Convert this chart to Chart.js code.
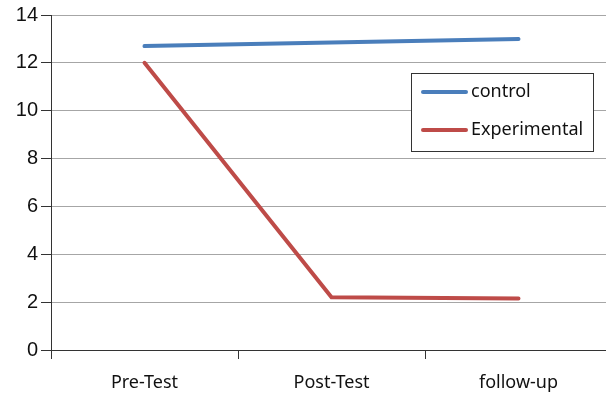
<!DOCTYPE html>
<html>
<head>
<meta charset="utf-8">
<script src="https://cdn.jsdelivr.net/npm/chart.js@4"></script>
<style>
  html, body { margin: 0; padding: 0; background: #fff; overflow: hidden; }
  /* the original plot runs a little past the right edge of the picture */
  #wrap { width: 606px; height: 398px; overflow: hidden; }
</style>
</head>
<body>
<div id="wrap"><canvas id="lineChart" width="612" height="398"></canvas></div>
<script>
// values
const categories = ['Pre-Test', 'Post-Test', 'follow-up'];
const controlValues = [12.7, 12.85, 13.0];
const experimentalValues = [12.0, 2.2, 2.15];
const yTicks = [0, 2, 4, 6, 8, 10, 12, 14];

// boxed legend that sits inside the plot, like the spreadsheet original
const boxLegend = {
    id: 'boxLegend',
    afterDraw(chart) {
        const ctx = chart.ctx;
        const x = 411, y = 73, w = 182, h = 78;
        ctx.save();
        ctx.fillStyle = '#fff';
        ctx.fillRect(x, y, w, h);
        ctx.strokeStyle = '#333';
        ctx.lineWidth = 1;
        ctx.strokeRect(x + 0.5, y + 0.5, w, h);
        chart.data.datasets.forEach((ds, i) => {
            const ly = y + 19 + i * 38;
            ctx.strokeStyle = ds.borderColor;
            ctx.lineWidth = 4;
            ctx.lineCap = 'round';
            ctx.beginPath();
            ctx.moveTo(x + 12, ly);
            ctx.lineTo(x + 55, ly);
            ctx.stroke();
            ctx.fillStyle = '#111';
            ctx.font = '18px "Noto Sans"';
            ctx.textBaseline = 'middle';
            ctx.fillText(ds.label, x + 60, ly);
        });
        ctx.restore();
    }
};

const ctx = document.getElementById('lineChart').getContext('2d');
new Chart(ctx, {
    type: 'line',
    data: {
        labels: categories,
        datasets: [{
            label: 'control',
            data: controlValues,
            borderColor: '#4a7ebb',
            borderWidth: 4,
            borderCapStyle: 'round',
            pointRadius: 0,
            tension: 0
        }, {
            label: 'Experimental',
            data: experimentalValues,
            borderColor: '#be4b48',
            borderWidth: 4,
            borderCapStyle: 'round',
            pointRadius: 0,
            tension: 0
        }]
    },
    options: {
        responsive: false,
        animation: false,
        layout: { padding: { left: 0, top: 10, right: 0, bottom: 0 } },
        plugins: {
            legend: { display: false },
            tooltip: { enabled: false }
        },
        scales: {
            x: {
                offset: true,
                afterFit: axis => { axis.height = 48; },
                grid: {
                    offset: true,
                    drawOnChartArea: false,
                    drawTicks: true,
                    tickLength: 9,
                    tickColor: '#333'
                },
                border: { color: '#333', width: 1 },
                ticks: {
                    padding: 13,
                    color: '#111',
                    font: { family: 'Noto Sans', size: 18 }
                }
            },
            y: {
                min: 0,
                max: 14,
                afterFit: axis => { axis.width = 51; },
                afterBuildTicks: axis => { axis.ticks = yTicks.map(v => ({ value: v })); },
                grid: {
                    color: '#a6a6a6',
                    tickColor: '#333',
                    tickLength: 10
                },
                border: { color: '#333', width: 1 },
                ticks: {
                    padding: 3,
                    color: '#111',
                    font: { family: 'Liberation Sans', size: 20 }
                }
            }
        }
    },
    plugins: [boxLegend]
});
</script>
</body>
</html>
